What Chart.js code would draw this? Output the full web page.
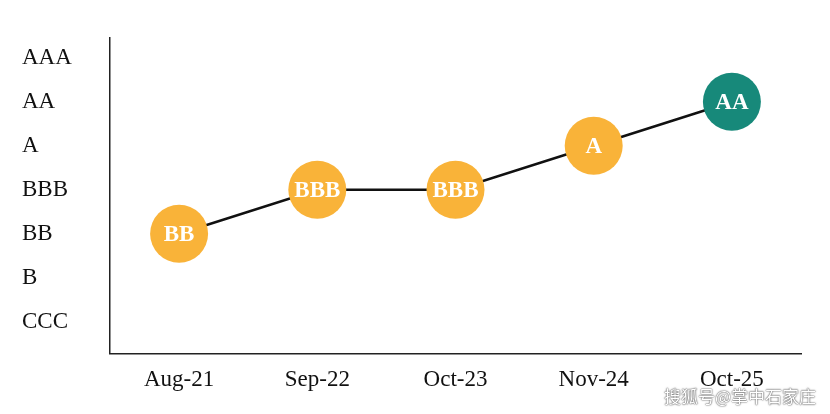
<!DOCTYPE html>
<html><head><meta charset="utf-8">
<script src="https://cdn.jsdelivr.net/npm/chart.js@4"></script>
<style>body{margin:0;background:#fff}#w{position:relative;width:830px;height:414px}
#wm{position:absolute;right:14px;bottom:6px;font:17px "Noto Sans CJK SC";color:#fff;text-shadow:0 0 2px #555,0 0 1px #333}</style>
</head><body><div id="w"><canvas id="c" width="830" height="414"></canvas><div id="wm">搜狐号@掌中石家庄</div></div>
<script>
const categories=["Aug-21","Sep-22","Oct-23","Nov-24","Oct-25"];
const ratingLevels=["CCC","B","BB","BBB","A","AA","AAA"];
const ratings=["BB","BBB","BBB","A","AA"];
const pointColors=["#F9B339","#F9B339","#F9B339","#F9B339","#17897A"];
const values=ratings.map(r=>ratingLevels.indexOf(r));
const labelPlugin={id:'lbl',afterDatasetsDraw(ch){const ctx=ch.ctx;const m=ch.getDatasetMeta(0);ctx.save();ctx.fillStyle='#fff';ctx.font='bold 23px "Liberation Serif"';ctx.textAlign='center';ctx.textBaseline='middle';
m.data.forEach((p,i)=>ctx.fillText(ratings[i],p.x,p.y+1));ctx.restore();}};
new Chart(document.getElementById('c'),{type:'line',
data:{labels:categories,datasets:[{data:values,borderColor:'#111',borderWidth:2.5,pointRadius:29,pointHoverRadius:29,pointBackgroundColor:pointColors,pointBorderColor:pointColors,pointBorderWidth:0,tension:0}]},
options:{responsive:false,animation:false,plugins:{legend:{display:false},tooltip:{enabled:false}},
layout:{padding:{left:22,right:10,top:38,bottom:7}},
scales:{y:{min:-0.72,max:6.45,grid:{display:false,drawTicks:false},border:{color:'#222',width:1.5},
afterBuildTicks(s){s.ticks=ratingLevels.map((_,i)=>({value:i}));},
ticks:{crossAlign:'far',padding:0,color:'#111',font:{family:'Liberation Serif',size:23},callback:v=>ratingLevels[v]??''},afterFit(s){s.width=88;}},
x:{offset:true,grid:{display:false,drawTicks:false},border:{color:'#222',width:1.5},ticks:{padding:13,color:'#111',font:{family:'Liberation Serif',size:23}}}}},
plugins:[labelPlugin]});
</script></body></html>
